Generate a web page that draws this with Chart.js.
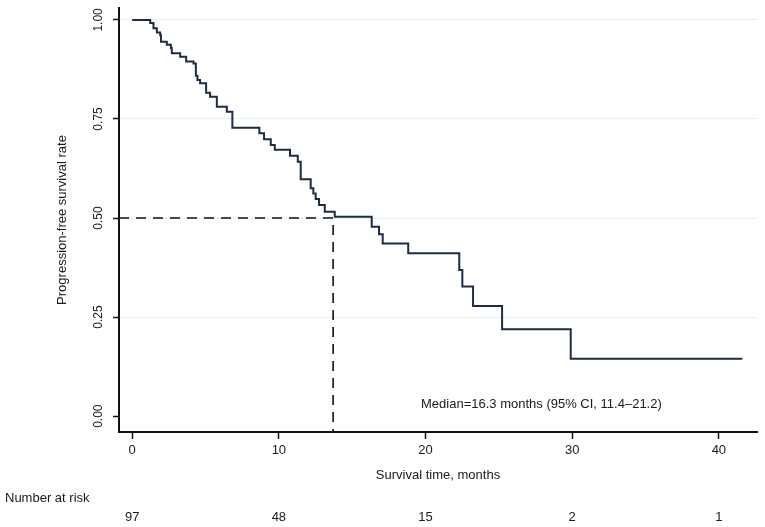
<!DOCTYPE html>
<html>
<head>
<meta charset="utf-8">
<script src="https://cdn.jsdelivr.net/npm/chart.js@4.4.1/dist/chart.umd.min.js"></script>
<style>
  html, body { margin: 0; padding: 0; background: #fff; }
  #wrap { width: 765px; height: 527px; }
</style>
</head>
<body>
<div id="wrap"><canvas id="km" width="765" height="527"></canvas></div>
<script>
// Kaplan-Meier curve (months, survival)
const times = [0, 1.23, 1.45, 1.68, 1.91, 1.96, 2.36, 2.64, 2.70, 3.27, 3.68, 4.18, 4.34, 4.45, 4.63, 5.04, 5.31, 5.77, 6.45, 6.83,
  8.67, 8.99, 9.45, 9.72, 10.76, 11.29, 11.49, 12.17, 12.35, 12.51, 12.74, 13.13, 13.81,
  16.33, 16.83, 17.08, 18.82, 22.30, 22.51, 23.24, 25.22, 29.90, 41.6];
const survival = [1.0, 0.992, 0.979, 0.968, 0.962, 0.945, 0.937, 0.929, 0.916, 0.907, 0.895, 0.890, 0.859, 0.848, 0.840, 0.816, 0.806, 0.781, 0.768, 0.728,
  0.714, 0.699, 0.684, 0.672, 0.657, 0.642, 0.598, 0.575, 0.562, 0.548, 0.533, 0.516, 0.503,
  0.478, 0.459, 0.436, 0.411, 0.369, 0.327, 0.278, 0.219, 0.145, 0.145];

const medianTime = 13.7;
const medianRate = 0.5;

const xTicks = [0, 10, 20, 30, 40];
const yTicks = [0, 0.25, 0.5, 0.75, 1.0];
const yTickLabels = ['0.00', '0.25', '0.50', '0.75', '1.00'];

const riskTimes = [0, 10, 20, 30, 40];
const atRisk = [97, 48, 15, 2, 1];

const medianText = 'Median=16.3 months (95% CI, 11.4\u201321.2)';

const xMin = -0.9, xMax = 42.6;
const yMin = -0.04, yMax = 1.03;

const FONT = 'Liberation Sans, Arial, Helvetica, sans-serif';
const TEXT = '#1a1a1a';

const curve = times.map((t, i) => ({ x: t, y: survival[i] }));
const medianLine = [
  { x: xMin, y: medianRate },
  { x: medianTime, y: medianRate },
  { x: medianTime, y: yMin }
];

const extras = {
  id: 'extras',
  afterDraw(chart) {
    const c = chart.ctx;
    const xs = chart.scales.x, ys = chart.scales.y;
    c.save();
    c.fillStyle = TEXT;
    // rotated y tick labels
    c.font = '12px ' + FONT;
    c.textAlign = 'center';
    c.textBaseline = 'middle';
    yTicks.forEach((v, i) => {
      c.save();
      c.translate(99, ys.getPixelForValue(v));
      c.rotate(-Math.PI / 2);
      c.fillText(yTickLabels[i], 0, 0);
      c.restore();
    });
    // median annotation
    c.font = '13px ' + FONT;
    c.fillText(medianText, xs.getPixelForValue(27.9), ys.getPixelForValue(0.03));
    // number at risk table
    c.textAlign = 'left';
    c.fillText('Number at risk', 5, 498);
    c.textAlign = 'center';
    riskTimes.forEach((t, i) => {
      c.fillText(String(atRisk[i]), xs.getPixelForValue(t), 517);
    });
    c.restore();
  }
};

new Chart(document.getElementById('km'), {
  type: 'scatter',
  data: {
    datasets: [
      {
        data: curve,
        showLine: true,
        stepped: true,
        borderColor: '#1d2b45',
        borderWidth: 2,
        pointRadius: 0
      },
      {
        data: medianLine,
        showLine: true,
        borderColor: '#111',
        borderWidth: 1.6,
        borderDash: [10, 7],
        pointRadius: 0
      }
    ]
  },
  plugins: [extras],
  options: {
    responsive: false,
    animation: false,
    layout: { padding: { top: 8, right: 8, left: 0, bottom: 0 } },
    plugins: { legend: { display: false }, tooltip: { enabled: false } },
    scales: {
      x: {
        type: 'linear',
        min: xMin,
        max: xMax,
        afterBuildTicks: (s) => { s.ticks = xTicks.map(v => ({ value: v })); },
        afterFit: (s) => { s.height = 95; },
        grid: { drawOnChartArea: false, tickLength: 7, tickColor: '#111', tickWidth: 1.5 },
        border: { color: '#111', width: 2 },
        ticks: { color: TEXT, font: { family: FONT, size: 13 }, padding: 4 },
        title: {
          display: true,
          text: 'Survival time, months',
          color: TEXT,
          font: { family: FONT, size: 13 },
          padding: { top: 0, bottom: 44 }
        }
      },
      y: {
        min: yMin,
        max: yMax,
        afterBuildTicks: (s) => { s.ticks = yTicks.map(v => ({ value: v })); },
        afterFit: (s) => { s.width = 119; },
        grid: {
          color: (ctx) => ctx.tick && ctx.tick.value === 0 ? 'rgba(0,0,0,0)' : '#e2f0f0',
          lineWidth: 1,
          tickLength: 6,
          tickColor: '#111',
          tickWidth: 1.5
        },
        border: { color: '#111', width: 2 },
        ticks: { display: false },
        title: {
          display: true,
          text: 'Progression-free survival rate',
          color: TEXT,
          font: { family: FONT, size: 13 },
          padding: { top: 55, bottom: 0 }
        }
      }
    }
  }
});
</script>
</body>
</html>
